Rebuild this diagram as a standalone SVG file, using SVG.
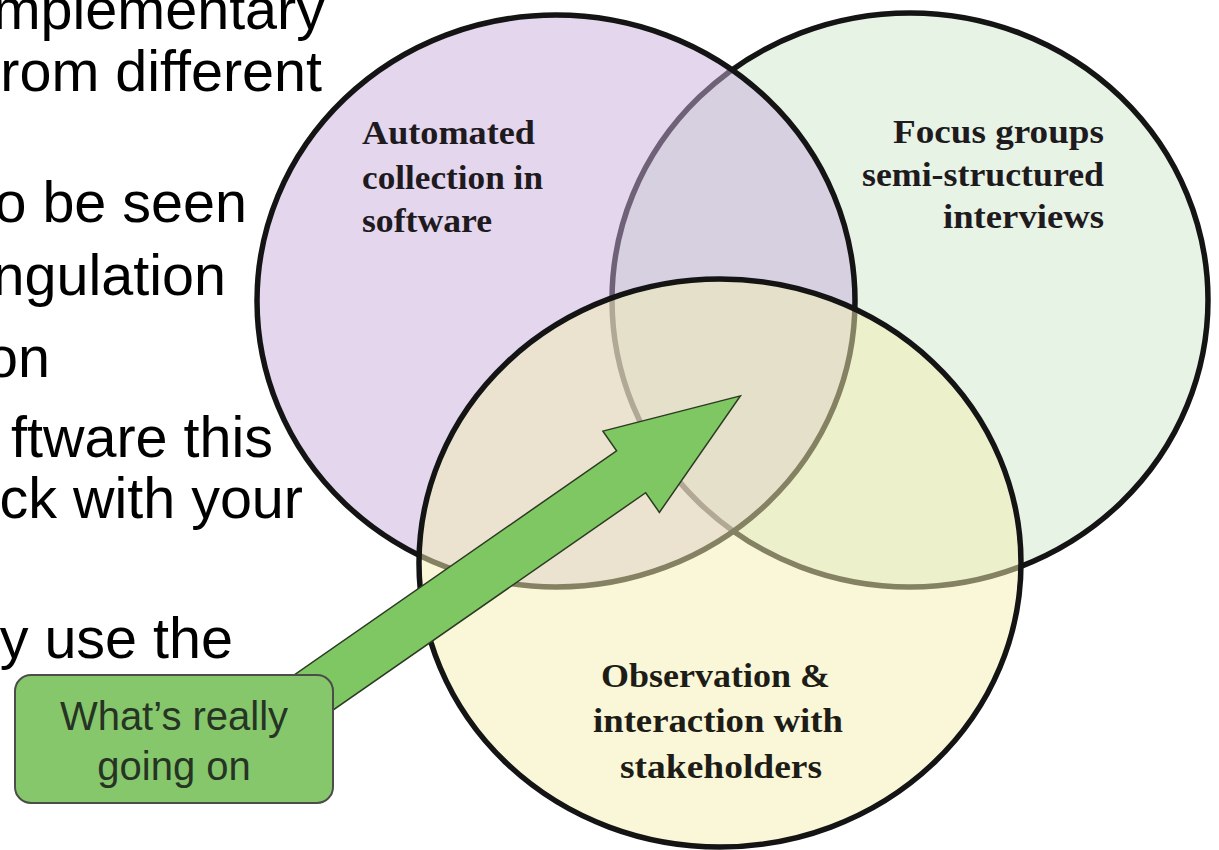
<svg xmlns="http://www.w3.org/2000/svg" width="1219" height="850" viewBox="0 0 1219 850">
<style>
.bullet{font-family:"Liberation Sans",Arial,sans-serif;font-size:57.5px;fill:#000;text-anchor:end}
.circ{stroke:#141414;stroke-width:5.5}
.lbl{font-family:"Liberation Serif","Times New Roman",serif;font-weight:bold;font-size:33px;fill:#1e1a1e}
.lbl2{font-family:"Liberation Serif","Times New Roman",serif;font-weight:bold;font-size:33px;fill:#1e1c16}
.boxtxt{font-family:"Liberation Sans",Arial,sans-serif;font-size:40px;fill:#263424;text-anchor:middle}
</style>
<rect x="0" y="0" width="1219" height="850" fill="#ffffff"/>
<g id="slide-text">
<text class="bullet" x="325" y="29">mplementary</text>
<text class="bullet" x="322" y="91">rom different</text>
<text class="bullet" x="247" y="222">o be seen</text>
<text class="bullet" x="226" y="295">ngulation</text>
<text class="bullet" x="50" y="377">on</text>
<text class="bullet" x="273" y="457">ftware this</text>
<text class="bullet" x="303" y="518">ck with your</text>
<text class="bullet" x="233" y="658">y use the</text>
</g>
<g id="node-focus">
<ellipse class="circ" cx="910" cy="300" rx="298" ry="287" fill="#e7f3e5"/>
</g>
<g id="node-automated">
<ellipse class="circ" cx="556" cy="301" rx="299" ry="286" fill="#c7addb" fill-opacity="0.5"/>
</g>
<g id="node-observation">
<ellipse class="circ" cx="720" cy="563" rx="301" ry="284" fill="#f3efb1" fill-opacity="0.5"/>
</g>
<g id="labels">
<text class="lbl" x="362" y="144" textLength="173" lengthAdjust="spacingAndGlyphs">Automated</text>
<text class="lbl" x="362" y="189" textLength="181" lengthAdjust="spacingAndGlyphs">collection in</text>
<text class="lbl" x="362" y="232" textLength="130" lengthAdjust="spacingAndGlyphs">software</text>
<text class="lbl" x="893" y="143" textLength="211" lengthAdjust="spacingAndGlyphs">Focus groups</text>
<text class="lbl" x="862" y="186" textLength="242" lengthAdjust="spacingAndGlyphs">semi-structured</text>
<text class="lbl" x="943" y="228" textLength="161" lengthAdjust="spacingAndGlyphs">interviews</text>
<text class="lbl2" x="601" y="687" textLength="229" lengthAdjust="spacingAndGlyphs">Observation &amp;</text>
<text class="lbl2" x="593" y="732" textLength="250" lengthAdjust="spacingAndGlyphs">interaction with</text>
<text class="lbl2" x="620" y="778" textLength="202" lengthAdjust="spacingAndGlyphs">stakeholders</text>
</g>
<g id="connectors">
<polygon transform="translate(315 691.5) rotate(-34.8)" points="-80,-25.5 385,-25.5 385,-49.5 518,0 385,49.5 385,25.5 -80,25.5" fill="#7fc763" stroke="#2b3a22" stroke-width="1.5" stroke-linejoin="miter"/>
</g>
<g id="node-whats-going-on">
<rect x="15" y="675" width="318" height="128" rx="16" ry="16" fill="#86c76c" stroke="#4a4d48" stroke-width="2"/>
<text class="boxtxt" x="174" y="730">What’s really</text>
<text class="boxtxt" x="174" y="780">going on</text>
</g>
</svg>
